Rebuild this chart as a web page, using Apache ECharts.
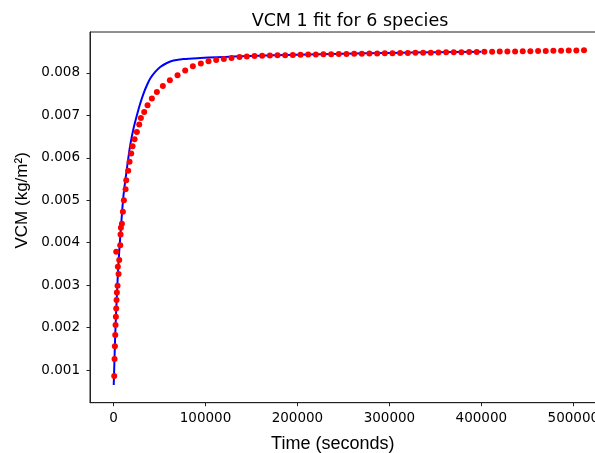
<!DOCTYPE html>
<html>
<head>
<meta charset="utf-8">
<script src="https://cdn.jsdelivr.net/npm/echarts@6/dist/echarts.min.js"></script>
<style>
html,body{margin:0;padding:0;background:#fff;overflow:hidden;}
#chart{width:595px;height:453px;}
</style>
</head>
<body>
<div id="chart"></div>
<script>
// Observed data (red dots): time in seconds, VCM in kg/m^2
const obsTime = [
  760, 1123, 1486, 1848, 2210, 2573, 2935, 3297, 3660, 4385,
  4700, 5472, 2935, 6197, 7284, 7646, 8009, 9096, 10183, 11270,
  13082, 13807, 15981, 17430, 19242, 20691, 22865, 25402, 27938, 29750,
  33373, 36997, 41707, 47142, 53664, 61274, 69607, 77941, 86275, 94971,
  103305, 111639, 119972, 128306, 137003, 144974,
  153300, 161600, 170000, 178300, 186700, 195000, 203300, 211700, 220000, 228300,
  236700, 245000, 253300, 261700, 270000, 278300, 286700, 295000, 303300, 311700,
  320000, 328300, 336700, 345000, 353300, 361700, 370000, 378300, 386700, 395000,
  403300, 411700, 420000, 428300, 436700, 445000, 453300, 461700, 470000, 478300,
  486700, 495000, 503300, 511600
];
const obsVCM = [
  0.000859, 0.00126, 0.001559, 0.001825, 0.00206, 0.002256, 0.002453, 0.002649, 0.00283, 0.002986,
  0.003433, 0.003261, 0.003786, 0.003591, 0.003944, 0.004196, 0.004351, 0.004446, 0.004728, 0.005004,
  0.005263, 0.005474, 0.005694, 0.005906, 0.006103, 0.006275, 0.00644, 0.006612, 0.006786, 0.006941,
  0.007083, 0.00724, 0.007398, 0.007554, 0.007695, 0.007829, 0.007947, 0.008057, 0.008159, 0.008222,
  0.008276, 0.008307, 0.008331, 0.008354, 0.008378, 0.008387, 0.008401,
  0.008408, 0.008412, 0.008418, 0.008421, 0.008425, 0.008430, 0.008433, 0.008437, 0.008440, 0.008444,
  0.008447, 0.008450, 0.008452, 0.008456, 0.008459, 0.008461, 0.008464, 0.008467, 0.008470, 0.008472,
  0.008475, 0.008478, 0.008480, 0.008483, 0.008486, 0.008488, 0.008491, 0.008493, 0.008496, 0.008499,
  0.008501, 0.008504, 0.008507, 0.008509, 0.008512, 0.008515, 0.008517, 0.008520, 0.008523, 0.008526,
  0.008529, 0.008533, 0.008537, 0.008541
];
// Fitted curve (blue line)
const fitTime = [
  217, 761, 1848, 3660, 5472, 7994, 10870, 14566, 18153, 21740,
  25436, 29023, 32610, 36305, 39892, 45327, 50763, 58045, 65220, 76090,
  94243, 112396, 130440, 148597, 200000, 250000, 300000, 350000, 400000
];
const fitVCM = [
  0.000648, 0.001041, 0.001825, 0.002767, 0.003551, 0.004337, 0.005121, 0.00575, 0.006299, 0.006692,
  0.007005, 0.00728, 0.007516, 0.007711, 0.007869, 0.008025, 0.008142, 0.008236, 0.008293, 0.00833,
  0.008354, 0.008371, 0.008387, 0.008401, 0.008429, 0.008452, 0.008472, 0.008488, 0.008502
];
const xTicks = [0, 100000, 200000, 300000, 400000, 500000];
const yTicks = [0.001, 0.002, 0.003, 0.004, 0.005, 0.006, 0.007, 0.008];

const obsData = obsTime.map((t, i) => [t, obsVCM[i]]);
const fitData = fitTime.map((t, i) => [t, fitVCM[i]]);

const chart = echarts.init(document.getElementById('chart'), null, {renderer: 'canvas'});
const tickFont = {fontFamily: 'DejaVu Sans', fontSize: 13.5, color: '#000'};
chart.setOption({
  animation: false,
  backgroundColor: '#fff',
  title: {
    text: 'VCM 1 fit for 6 species',
    left: 345,
    textAlign: 'center',
    top: 7,
    textStyle: {fontFamily: 'DejaVu Sans', fontSize: 17.5, fontWeight: 'normal', color: '#000'}
  },
  grid: {
    left: 90, width: 517.5, top: 32, height: 370.7,
    containLabel: false,
    outerBoundsMode: 'none',
    show: true, borderColor: '#222', borderWidth: 1, backgroundColor: 'transparent'
  },
  xAxis: {
    type: 'value',
    min: -25580, max: 537180,
    name: 'Time (seconds)',
    nameLocation: 'middle',
    nameGap: 32,
    nameTextStyle: {fontFamily: 'Liberation Sans', fontSize: 18, color: '#000', padding: [0, 32, 0, 0]},
    axisLine: {show: true, onZero: false, lineStyle: {color: '#222', width: 1}},
    axisTick: {show: true, inside: false, length: 3.5, customValues: xTicks, lineStyle: {color: '#222'}},
    axisLabel: Object.assign({margin: 9, customValues: xTicks, formatter: v => String(v)}, tickFont),
    splitLine: {show: false}
  },
  yAxis: {
    type: 'value',
    min: 0.000231, max: 0.008966,
    name: 'VCM (kg/m²)',
    nameLocation: 'middle',
    nameGap: 53,
    nameTextStyle: {fontFamily: 'Liberation Sans', fontSize: 17, color: '#000', padding: [0, 0, 0, 34]},
    axisLine: {show: true, onZero: false, lineStyle: {color: '#222', width: 1}},
    axisTick: {show: true, inside: false, length: 3.5, customValues: yTicks, lineStyle: {color: '#222'}},
    axisLabel: Object.assign({margin: 10, customValues: yTicks, formatter: v => v.toFixed(3)}, tickFont),
    splitLine: {show: false}
  },
  series: [
    {
      name: 'fit',
      type: 'line',
      data: fitData,
      smooth: 0.3,
      showSymbol: false,
      lineStyle: {color: '#0000ff', width: 2},
      z: 2
    },
    {
      name: 'observed',
      type: 'scatter',
      data: obsData,
      symbol: 'circle',
      symbolSize: 6,
      itemStyle: {color: '#ff0000', opacity: 1},
      z: 3
    }
  ]
});
</script>
</body>
</html>
